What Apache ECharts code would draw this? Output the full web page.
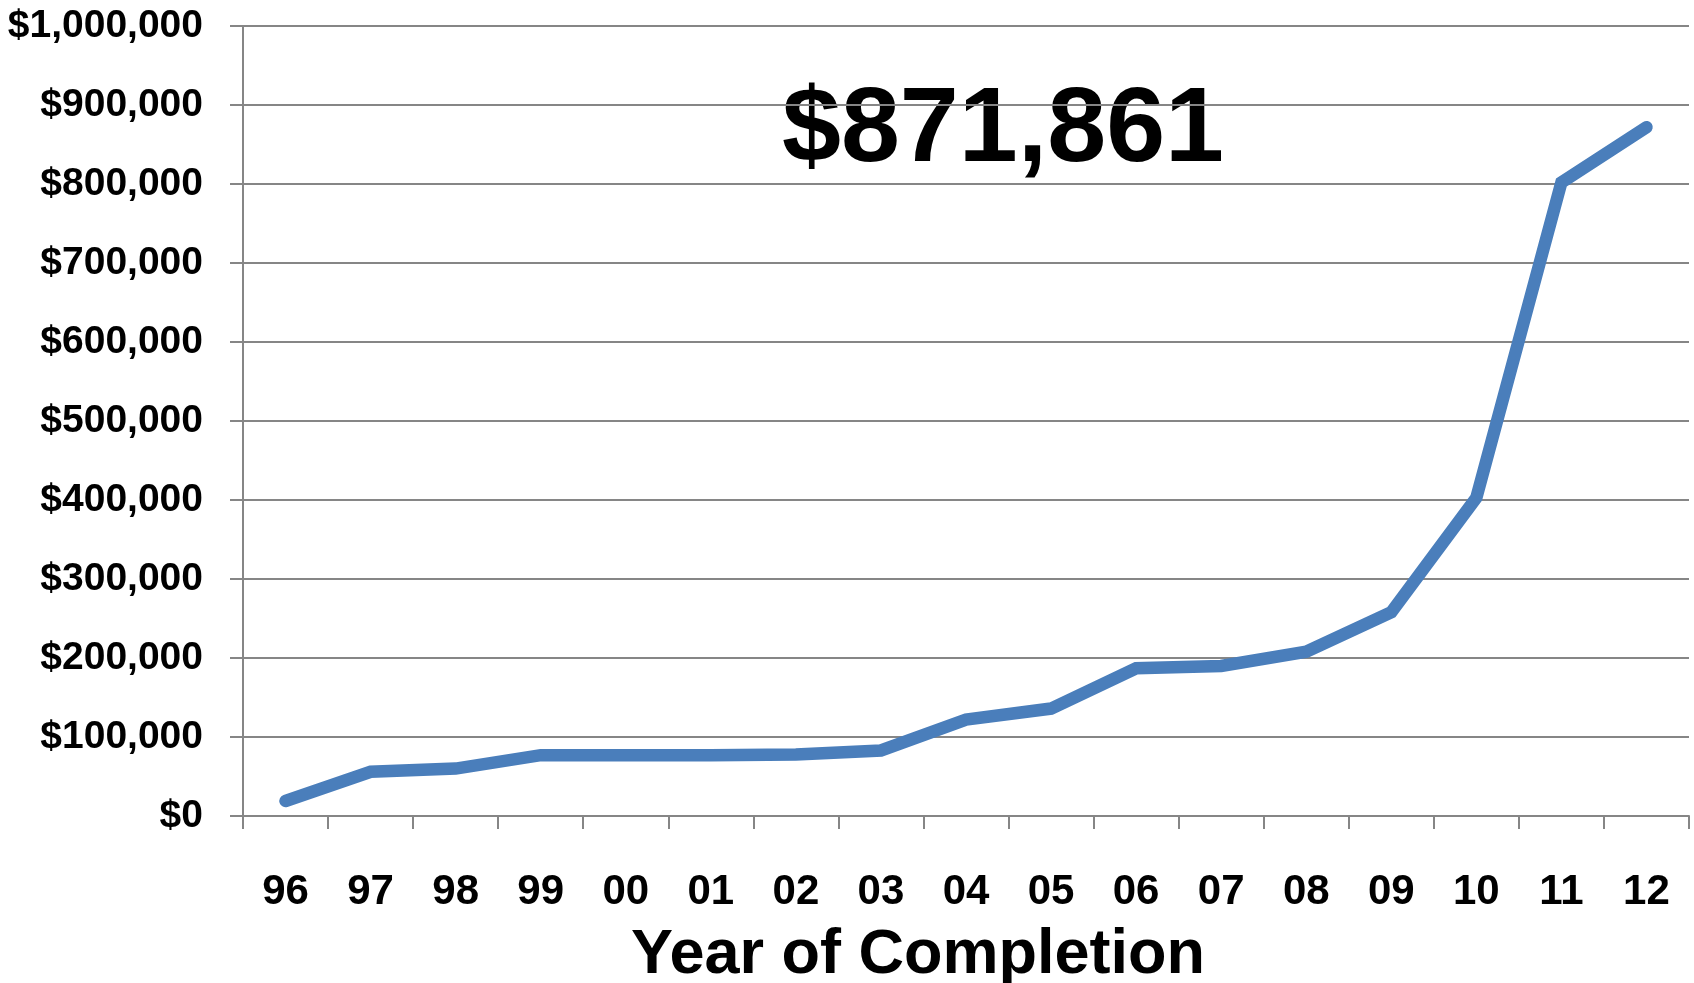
<!DOCTYPE html>
<html>
<head>
<meta charset="utf-8">
<script src="https://cdn.jsdelivr.net/npm/echarts@6/dist/echarts.min.js"></script>
<style>
html,body{margin:0;padding:0;background:#fff;}
#chart{width:1694px;height:983px;}
</style>
</head>
<body>
<div id="chart"></div>
<script>
const categories = ['96','97','98','99','00','01','02','03','04','05','06','07','08','09','10','11','12'];
const values = [19000, 56000, 60000, 77000, 77000, 77000, 78000, 83000, 122000, 136000, 187000, 190000, 208000, 258000, 403000, 802000, 871861];
const annotationText = '$871,861';
const xAxisTitle = 'Year of Completion';

const chart = echarts.init(document.getElementById('chart'));
const FONT = "'Liberation Sans', Arial, sans-serif";
const AXIS_GREY = '#868686';

chart.setOption({
  backgroundColor: '#ffffff',
  animation: false,
  grid: { left: 243, right: 5, top: 26, bottom: 167, containLabel: false },
  xAxis: {
    type: 'category',
    data: categories,
    boundaryGap: true,
    axisLine: { show: true, lineStyle: { color: AXIS_GREY, width: 2 } },
    axisTick: { show: true, length: 13, inside: false, lineStyle: { color: AXIS_GREY, width: 2 } },
    axisLabel: { color: '#000', fontFamily: FONT, fontWeight: 'bold', fontSize: 42, margin: 55 },
    splitLine: { show: false }
  },
  yAxis: {
    type: 'value',
    min: 0,
    max: 1000000,
    interval: 100000,
    axisLine: { show: true, lineStyle: { color: AXIS_GREY, width: 2 } },
    axisTick: { show: true, length: 13, lineStyle: { color: AXIS_GREY, width: 2 } },
    axisLabel: {
      color: '#000', fontFamily: FONT, fontWeight: 'bold', fontSize: 39, margin: 40,
      formatter: v => '$' + v.toLocaleString('en-US')
    },
    splitLine: { show: true, lineStyle: { color: AXIS_GREY, width: 2 } }
  },
  series: [{
    type: 'line',
    data: values,
    symbol: 'none',
    lineStyle: { color: '#4a7ebb', width: 12.5, cap: 'round', join: 'miter' }
  }],
  graphic: [
    {
      type: 'text',
      style: {
        text: annotationText,
        x: 1003, y: 132,
        align: 'center', verticalAlign: 'middle',
        font: "bold 106px 'Liberation Sans', Arial, sans-serif",
        fill: '#000'
      }
    },
    {
      type: 'text',
      style: {
        text: xAxisTitle,
        x: 918, y: 956,
        align: 'center', verticalAlign: 'middle',
        font: "bold 63px 'Liberation Sans', Arial, sans-serif",
        fill: '#000'
      }
    }
  ]
});
</script>
</body>
</html>
